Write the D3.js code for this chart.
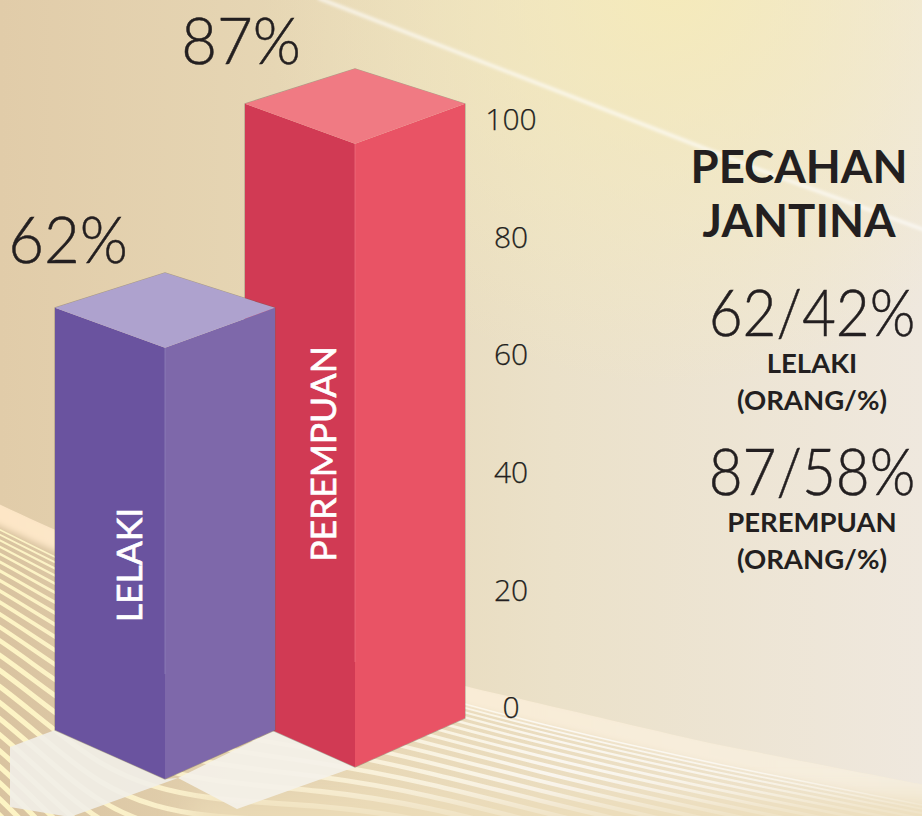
<!DOCTYPE html>
<html>
<head>
<meta charset="utf-8">
<script src="https://cdn.jsdelivr.net/npm/d3@7"></script>
<style>
  html, body { margin: 0; padding: 0; background: #e8dcc0; }
  svg { display: block; }
  text { fill: #231f20; }
  .tick-label { font-family: "Open Sans", sans-serif; font-weight: 300; font-size: 30px; stroke: #231f20; stroke-width: 0.25px; }
  .big { font-family: Lato, sans-serif; font-weight: 300; font-size: 65px; stroke: #231f20; stroke-width: 0.5px; }
  .heading { font-family: Lato, sans-serif; font-weight: 700; font-size: 45.5px; }
  .sub { font-family: Lato, sans-serif; font-weight: 700; font-size: 27.5px; }
  .bar-name { font-family: Lato, sans-serif; font-weight: 400; font-size: 35.5px; fill: #fff; stroke: #fff; stroke-width: 0.7px; }
</style>
</head>
<body>
<div id="chart"></div>
<script>
const categories = ["LELAKI", "PEREMPUAN"];
const counts = [62, 87];
const shares = [42, 58];
const ticks = [0, 20, 40, 60, 80, 100];
const title = ["PECAHAN", "JANTINA"];

const width = 922;
const height = 816;

const colors = {
  LELAKI: { left: "#6a539f", right: "#7e68aa", top: "#aea2ce", edge: "#9384bb" },
  PEREMPUAN: { left: "#d13a54", right: "#e95365", top: "#f07a83", edge: "#ef7280" },
};

const svg = d3.select("#chart").append("svg").attr("width", width).attr("height", height);
const defs = svg.append("defs");

function gradient(id, stops, x1, x2) {
  const g = defs.append("linearGradient").attr("id", id)
    .attr("gradientUnits", "userSpaceOnUse")
    .attr("x1", x1).attr("x2", x2).attr("y1", 0).attr("y2", 0);
  stops.forEach(([o, c, a]) => g.append("stop").attr("offset", o).attr("stop-color", c).attr("stop-opacity", a === undefined ? 1 : a));
}
gradient("wall", [[0, "#e1cca9"], [0.3, "#e6d6b4"], [0.6, "#ebe1c9"], [1, "#efe8de"]], 0, width);
gradient("floor", [[0, "#d9c3a0"], [0.4, "#e8d8b6"], [1, "#f0e7d4"]], 0, width);
gradient("band", [[0, "#fde6c6"], [0.5, "#f9ecd6"], [1, "#f5eee0"]], 0, width);
gradient("stripe", [[0, "#fff7c6", 0.95], [0.3, "#fff6d8", 0.75], [0.6, "#ffffff", 0.75], [1, "#ffffff", 0.5]], 0, width);

const glow = defs.append("radialGradient").attr("id", "glow")
  .attr("gradientUnits", "userSpaceOnUse").attr("cx", 670).attr("cy", -20).attr("r", 410);
glow.append("stop").attr("offset", 0).attr("stop-color", "#f6ebb8").attr("stop-opacity", 0.9);
glow.append("stop").attr("offset", 1).attr("stop-color", "#f6ebb8").attr("stop-opacity", 0);

defs.append("filter").attr("id", "soft").append("feGaussianBlur").attr("stdDeviation", 1.6);
defs.append("filter").attr("id", "softer").append("feGaussianBlur").attr("stdDeviation", 0.7);
defs.append("filter").attr("id", "softest").append("feGaussianBlur").attr("stdDeviation", 3);
defs.append("filter").attr("id", "haze-blur")
  .attr("x", "-20%").attr("y", "-100%").attr("width", "140%").attr("height", "300%")
  .append("feGaussianBlur").attr("stdDeviation", 14);

// background art
const bg = svg.append("g");
bg.append("rect").attr("width", width).attr("height", height).attr("fill", "url(#wall)");
bg.append("rect").attr("width", width).attr("height", height).attr("fill", "url(#glow)");

const streak = d3.line()([[318, -2], [560, 92], [760, 170], [930, 232]]);
bg.append("path").attr("d", streak).attr("fill", "none").attr("stroke", "#fff")
  .attr("stroke-width", 3.5).attr("stroke-opacity", 0.65).attr("filter", "url(#soft)");

// top edge of the striped floor
const floorTop = d3.scaleLinear()
  .domain([-10, 55, 200, 452, 700, 940])
  .range([500, 530, 590, 683, 741, 788]);

const floorLine = d3.line().curve(d3.curveBasis);
const xs = d3.range(-10, 941, 20);
const floorPts = xs.map((x) => [x, floorTop(x)]);
const floorPath = floorLine(floorPts) + `L940,${height}L-10,${height}Z`;

defs.append("clipPath").attr("id", "floor-clip").append("path").attr("d", floorPath);
const floor = bg.append("g").attr("clip-path", "url(#floor-clip)");
floor.append("rect").attr("width", width).attr("height", height).attr("fill", "url(#floor)");
floor.append("path")
  .attr("d", floorLine(xs.map((x) => [x, floorTop(x) + 8])))
  .attr("fill", "none").attr("stroke", "url(#band)").attr("stroke-width", 24).attr("filter", "url(#softest)");

let offset = 24;
let gap = 4.5;
const stripes = [];
while (offset < 460) {
  stripes.push({ offset, gap });
  offset += gap;
  gap = Math.min(gap + 0.75, 15);
}

// stripes fan out on the far left and pack closer again right of the bars
function stripeSpread(x) {
  if (x < 120) return 1 + Math.max(x, 0) / 300;
  return Math.max(0.85, 1.4 - (x - 120) / 500);
}
// coarse knots so the basis curve irons out the kinks
const stripeXs = d3.range(-120, 1200, 110);
floor.selectAll(".stripe").data(stripes).join("path")
  .attr("class", "stripe")
  .attr("d", (s) => floorLine(stripeXs.map((x) => [x, floorTop(x) + s.offset * stripeSpread(x)])))
  .attr("fill", "none").attr("stroke", "url(#stripe)")
  .attr("stroke-width", (s) => s.gap * 0.34)
  .attr("filter", "url(#softer)");

// lower middle of the floor is much paler than the lit stripes
floor.append("rect").attr("x", 190).attr("y", 800).attr("width", 780).attr("height", 60)
  .attr("fill", "#ecdcb8").attr("fill-opacity", 0.8).attr("filter", "url(#haze-blur)");

// the art bars do not sit on the printed axis, so they get their own height scale
const y = d3.scaleLinear().domain([0, 100]).range([708, 120]);
const barHeight = d3.scaleLinear().domain([0, 100]).range([-45, 723]);
const barLeft = d3.scalePoint().domain(categories).range([55, 245]);
const barBase = d3.scalePoint().domain(categories).range([779, 767]);

const halfWidth = 110;
const baseRise = 49;
const topFront = 40;
const topBack = 35;

const bars = categories.map((name, i) => {
  const x0 = barLeft(name);
  const xf = x0 + halfWidth;
  const x1 = xf + halfWidth;
  const yb = barBase(name);
  const yt = yb - barHeight(counts[i]);
  return { name, value: counts[i], x0, xf, x1, yb, yt };
});

const poly = (pts) => d3.line()(pts) + "Z";

// white floor shadows, worked out from the bar corners
const shadows = svg.append("g");
const [lelaki, perempuan] = bars;
shadows.append("path")
  .attr("d", poly([
    [lelaki.x0, lelaki.yb - baseRise],
    [lelaki.x0 - 45, lelaki.yb - baseRise + 17],
    [lelaki.x0 - 45, lelaki.yb + 28],
    [lelaki.x0 + 15, lelaki.yb + 38],
    [lelaki.xf + 13, lelaki.yb - 1],
    [lelaki.xf, lelaki.yb],
  ]))
  .attr("fill", "#f1eee8").attr("fill-opacity", 0.9);
shadows.append("path")
  .attr("d", poly([
    [lelaki.x1, lelaki.yb - baseRise],
    [perempuan.xf, perempuan.yb],
    [perempuan.xf - 118, perempuan.yb + 42],
    [lelaki.xf + 13, lelaki.yb - 1],
  ]))
  .attr("fill", "#f4f1e9").attr("fill-opacity", 0.92);

// draw the taller bar first, the shorter one stands in front of it
const gBars = svg.append("g");
const gBar = gBars.selectAll(".bar").data(bars.slice().reverse()).join("g").attr("class", "bar");

gBar.append("path")
  .attr("d", (d) => poly([[d.x0, d.yt - topFront], [d.xf, d.yt - topFront - topBack], [d.x1, d.yt - topFront], [d.x1, d.yb - baseRise], [d.xf, d.yb], [d.x0, d.yb - baseRise]]))
  .attr("fill", "none").attr("stroke", "#6f6658").attr("stroke-opacity", 0.5).attr("stroke-width", 1.2);
gBar.append("path")
  .attr("d", (d) => poly([[d.x0, d.yt - topFront], [d.xf, d.yt], [d.xf, d.yb], [d.x0, d.yb - baseRise]]))
  .attr("fill", (d) => colors[d.name].left);
gBar.append("path")
  .attr("d", (d) => poly([[d.xf, d.yt], [d.x1, d.yt - topFront], [d.x1, d.yb - baseRise], [d.xf, d.yb]]))
  .attr("fill", (d) => colors[d.name].right);
gBar.append("path")
  .attr("d", (d) => poly([[d.x0, d.yt - topFront], [d.xf, d.yt - topFront - topBack], [d.x1, d.yt - topFront], [d.xf, d.yt]]))
  .attr("fill", (d) => colors[d.name].top);
gBar.append("line")
  .attr("x1", (d) => d.xf).attr("x2", (d) => d.xf)
  .attr("y1", (d) => d.yt).attr("y2", (d) => d.yb - 105)
  .attr("stroke", (d) => colors[d.name].edge).attr("stroke-width", 1).attr("stroke-opacity", 0.7);

// names run up the left face
gBar.append("text")
  .attr("class", "bar-name")
  .attr("text-anchor", "middle")
  .attr("transform", (d) => d.name === "LELAKI" ? `translate(${d.x0 + 87},${d.yb - 214}) rotate(-90)` : `translate(${d.x0 + 91},${d.yb - 313}) rotate(-90)`)
  .text((d) => d.name);

// value above each bar, the source face is narrower than Lato so squeeze it a bit
svg.append("g").selectAll("text").data(bars).join("text")
  .attr("class", "big")
  .attr("text-anchor", "middle")
  .attr("transform", (d) => {
    const tx = d.name === "LELAKI" ? d.x0 + 13 : d.x0 - 4;
    const ty = d.yt - topFront - topBack - (d.name === "LELAKI" ? 10 : 5);
    return `translate(${tx},${ty}) scale(0.95,1)`;
  })
  .text((d) => `${d.value}%`);

// axis with labels only, no line or tick marks
const axis = svg.append("g")
  .attr("transform", "translate(511,0)")
  .call(d3.axisRight(y).tickValues(ticks).tickSize(0).tickPadding(0));
axis.select(".domain").remove();
axis.selectAll("text")
  .attr("class", "tick-label")
  .attr("text-anchor", "middle")
  .attr("fill", null);

// side panel
const side = svg.append("g").attr("text-anchor", "middle");
side.selectAll(".heading").data(title).join("text")
  .attr("class", "heading")
  .attr("x", 799)
  .attr("y", (d, i) => 183 + i * 54)
  .text((d) => d);

categories.forEach((name, i) => {
  const g = side.append("g").attr("transform", `translate(812,${336 + i * 159})`);
  g.append("text").attr("class", "big").attr("transform", "scale(0.9,1)").text(`${counts[i]}/${shares[i]}%`);
  g.append("text").attr("class", "sub").attr("y", 37).text(name);
  g.append("text").attr("class", "sub").attr("y", 74).text("(ORANG/%)");
});
</script>
</body>
</html>
